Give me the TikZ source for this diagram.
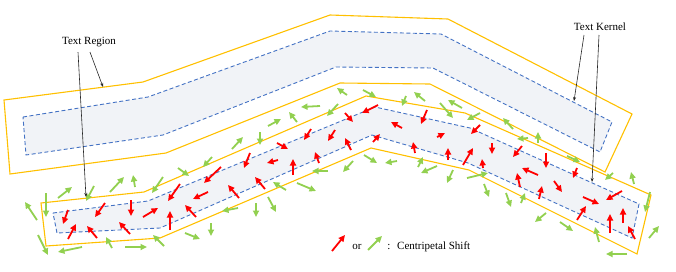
\documentclass[tikz,border=0pt]{standalone}
\usepackage{fontspec}
\setmainfont{Liberation Serif}
\usetikzlibrary{arrows.meta}
\definecolor{regionyellow}{HTML}{FFC000}
\definecolor{kernelblue}{HTML}{4472C4}
\definecolor{shiftgreen}{HTML}{92D050}
\definecolor{shiftred}{HTML}{FF0000}
\definecolor{kernelfill}{RGB}{241,243,247}
\begin{document}
\begin{tikzpicture}[x=1pt,y=-1pt,
  region/.style={draw=regionyellow,line width=1.1pt,line join=miter},
  kernel/.style={draw=kernelblue,dash pattern=on 4pt off 2.5pt,line width=0.9pt,fill=kernelfill},
  redshift/.style={color=shiftred,line width=1.8pt,-{Triangle[length=6.5pt,width=6pt]}},
  greenshift/.style={color=shiftgreen,line width=1.8pt,-{Triangle[length=6.5pt,width=6pt]}},
  leader/.style={draw=black!85,line width=0.6pt,-{Stealth[length=4pt,width=3pt]}},
  lbltext/.style={font=\fontsize{11}{13}\selectfont,inner sep=0pt,anchor=base}]
\useasboundingbox (0,0) rectangle (676,271);

% upper text region and kernel
\draw[region] (4,100) -- (143,82) -- (330,15) -- (448,19) -- (632,114) -- (605,172)
  -- (430,84) -- (340,83) -- (166,153) -- (10,174) -- cycle;
\draw[kernel] (23,117) -- (148,97) -- (330,31) -- (441,34) -- (612,122) -- (600,152)
  -- (433,68) -- (336,67) -- (163,135) -- (26,155) -- cycle;

% lower text region and kernel
\draw[region] (41,203) -- (144,192) -- (366,96) -- (465,113) -- (651,195) -- (637,254)
  -- (469,170) -- (371,148) -- (160,238) -- (46,246) -- cycle;
\draw[kernel] (53,213) -- (148,201) -- (375,107) -- (470,128) -- (639,204) -- (632,238)
  -- (468,163) -- (372,135) -- (160,228) -- (57,233) -- cycle;

% red shifts
\foreach \a/\b/\c/\d in {
 68/210/63/224, 68/239/76/224, 105/203/95/217, 97/238/87/226, 131/200/131/216,
 130/234/119/222, 143/217/158/208, 170/230/170/211, 180/184/168/201, 208/192/193/199,
 196/217/185/205, 239/198/228/185, 221/167/204/183, 250/153/244/168, 265/189/255/177,
 278/160/267/163, 293/175/293/159, 319/163/315/152, 277/143/288/149, 335/130/328/141,
 378/105/362/113, 402/128/391/122, 427/110/421/124, 437/137/445/133, 373/142/380/134,
 415/153/413/142, 448/160/448/148, 463/165/473/148, 480/125/471/134, 492/143/492/154,
 483/168/482/159, 345/113/353/122, 311/129/304/140, 351/150/345/138, 522/146/513/157,
 546/153/546/168, 538/175/522/168, 520/187/517/173, 539/199/542/186, 554/181/562/192,
 577/168/573/178, 583/197/599/204, 622/191/606/200, 577/220/586/206, 610/233/610/214,
 623/223/623/208, 635/239/628/226}
  \draw[redshift] (\a,\b) -- (\c,\d);

% green shifts
\foreach \a/\b/\c/\d in {
 37/220/25/202, 46/193/46/217, 58/198/72/187, 94/186/86/201, 110/192/124/177,
 135/187/133/175, 38/235/48/255, 82/247/58/252, 112/248/106/237, 125/247/147/247,
 163/177/152/193, 178/168/189/176, 212/157/203/167, 232/149/243/137, 260/132/260/145,
 238/208/222/211, 256/203/256/217, 268/197/276/212, 286/190/273/182, 297/183/316/191,
 328/171/312/171, 211/223/211/236, 185/233/200/239, 164/246/153/235, 347/95/337/88,
 363/90/376/97, 425/101/414/92, 406/96/402/106, 440/103/453/118, 320/106/301/107,
 338/104/327/116, 297/122/289/112, 268/126/281/119, 353/161/343/172, 364/155/377/163,
 397/161/385/163, 418/167/423/157, 437/166/421/173, 453/170/447/183, 467/178/488/173,
 462/108/448/100, 480/113/467/120, 513/129/503/118, 538/143/538/132, 528/138/517/139,
 567/156/580/162, 484/184/489/197, 506/193/511/207, 521/203/525/193, 546/213/535/222,
 560/222/573/231, 599/242/595/227, 613/173/605/180, 634/184/631/172, 650/192/645/212,
 649/238/659/226, 627/254/606/254}
  \draw[greenshift] (\a,\b) -- (\c,\d);

% labels and leaders
\node[lbltext] (tr) at (89,44.5) {Text Region};
\node[lbltext] (tk) at (600,30.7) {Text Kernel};
\coordinate (trLow) at (86,197);
\coordinate (trUp) at (103,87);
\coordinate (tkUp) at (574,101);
\coordinate (tkLow) at (592,182);
\draw[leader] ([xshift=-11pt,yshift=-5pt]tr.south) -- (trLow);
\draw[leader] ([xshift=1pt,yshift=-5pt]tr.south) -- (trUp);
\draw[leader] ([xshift=-16pt,yshift=-4pt]tk.south) -- (tkUp);
\draw[leader] ([xshift=-1pt,yshift=-4pt]tk.south) -- (tkLow);

% legend
\coordinate (lrA) at (332,251);
\coordinate (lrB) at (345,235);
\coordinate (lgA) at (368,250);
\coordinate (lgB) at (382,236);
\draw[redshift] (lrA) -- (lrB);
\draw[greenshift] (lgA) -- (lgB);
\node[lbltext] (lor) at (357,249) {or};
\node[lbltext] (lcol) at (389,249) {:};
\node[lbltext,anchor=base west] (lcs) at (397,249) {Centripetal Shift};
\end{tikzpicture}
\end{document}
